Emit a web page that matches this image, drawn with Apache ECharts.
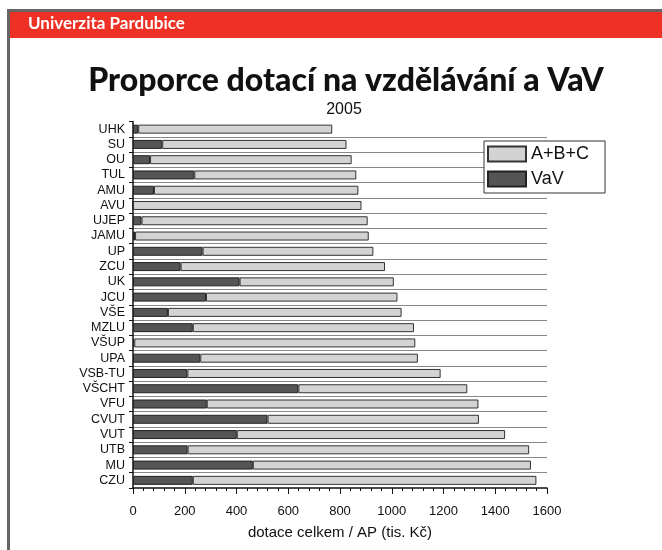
<!DOCTYPE html>
<html>
<head>
<meta charset="utf-8">
<script src="https://cdn.jsdelivr.net/npm/echarts@6/dist/echarts.min.js"></script>
<style>
  html, body { margin: 0; padding: 0; background: #fff; }
  #chart { width: 662px; height: 550px; }
</style>
</head>
<body>
<div id="chart"></div>
<script>
// vysoke skoly, odshora dolu
var schools = ['UHK', 'SU', 'OU', 'TUL', 'AMU', 'AVU', 'UJEP', 'JAMU', 'UP', 'ZCU', 'UK', 'JCU',
    'VŠE', 'MZLU', 'VŠUP', 'UPA', 'VSB-TU', 'VŠCHT', 'VFU', 'CVUT', 'VUT', 'UTB', 'MU', 'CZU'];

// VaV cast (tmava)
var vavValues = [20, 113, 66, 237, 81, 0, 33, 8, 269, 184, 412, 282,
    135, 231, 5, 260, 210, 639, 285, 520, 401, 211, 463, 231];

// A+B+C cast (svetla)
var abcValues = [750, 712, 779, 626, 790, 883, 874, 903, 660, 790, 596, 740,
    903, 855, 1086, 841, 979, 653, 1050, 817, 1037, 1320, 1075, 1328];

var xTicks = [0, 200, 400, 600, 800, 1000, 1200, 1400, 1600];

var chart = echarts.init(document.getElementById('chart'));

var option = {
    animation: false,
    backgroundColor: '#fff',
    graphic: [
        // ramecek a cerveny pruh nahore
        { type: 'rect', shape: { x: 7, y: 9, width: 3, height: 541 }, style: { fill: '#666' } },
        { type: 'rect', shape: { x: 7, y: 9, width: 655, height: 3 }, style: { fill: '#666' } },
        { type: 'rect', shape: { x: 10, y: 12, width: 652, height: 26 }, style: { fill: '#ee3124' } },
        {
            type: 'text', left: 28, top: 15,
            style: { text: 'Univerzita Pardubice', fill: '#fff', font: 'bold 17px Lato' }
        }
    ],
    title: [{
        text: 'Proporce dotací na vzdělávání a VaV',
        left: 341,
        top: 60,
        textAlign: 'center',
        textStyle: { fontFamily: 'Lato', fontWeight: 900, fontSize: 32, color: '#111' }
    }, {
        text: '2005',
        left: 339,
        top: 97,
        textAlign: 'center',
        textStyle: { fontFamily: 'Liberation Sans', fontWeight: 'normal', fontSize: 16, color: '#111' }
    }],
    legend: {
        orient: 'vertical',
        left: 484,
        top: 141,
        data: ['A+B+C', 'VaV'],
        icon: 'rect',
        backgroundColor: '#fff',
        borderColor: '#333',
        borderWidth: 1,
        padding: [4, 16, 5, 3],
        itemWidth: 38,
        itemHeight: 15,
        itemGap: 7,
        textStyle: { fontFamily: 'Liberation Sans', fontSize: 18, color: '#111' }
    },
    grid: {
        left: 133,
        right: 115,
        top: 121.5,
        bottom: 62,
        containLabel: false
    },
    xAxis: {
        type: 'value',
        min: 0,
        max: 1600,
        interval: 200,
        name: 'dotace celkem / AP (tis. Kč)',
        nameLocation: 'middle',
        nameGap: 37,
        nameTextStyle: { fontFamily: 'Liberation Sans', fontSize: 15, color: '#111' },
        axisLine: { show: true, lineStyle: { color: '#111', width: 1.5 } },
        axisTick: { show: true, length: 6, lineStyle: { color: '#111' } },
        minorTick: { show: true, splitNumber: 5, length: 3, lineStyle: { color: '#111' } },
        splitLine: { show: false },
        axisLabel: {
            fontFamily: 'Liberation Sans', fontSize: 13, color: '#111', margin: 17,
            formatter: function (v) { return xTicks.indexOf(v) >= 0 ? String(v) : ''; }
        }
    },
    yAxis: {
        type: 'category',
        inverse: true,
        data: schools,
        axisLine: { show: true, lineStyle: { color: '#111', width: 1.5 } },
        axisTick: { show: true, interval: 0, length: 4, lineStyle: { color: '#111' } },
        splitLine: {
            show: true,
            interval: 0,
            showMinLine: false,
            showMaxLine: false,
            lineStyle: { color: '#888', width: 1 }
        },
        axisLabel: { interval: 0, fontFamily: 'Liberation Sans', fontSize: 12.5, color: '#111', margin: 8 }
    },
    series: [{
        name: 'VaV',
        type: 'bar',
        stack: 'celkem',
        barWidth: 9,
        data: vavValues,
        itemStyle: { color: '#555', borderColor: '#222', borderWidth: 1 }
    }, {
        name: 'A+B+C',
        type: 'bar',
        stack: 'celkem',
        barWidth: 9,
        data: abcValues,
        itemStyle: { color: '#d3d3d3', borderColor: '#333', borderWidth: 1 }
    }]
};

chart.setOption(option);
</script>
</body>
</html>
